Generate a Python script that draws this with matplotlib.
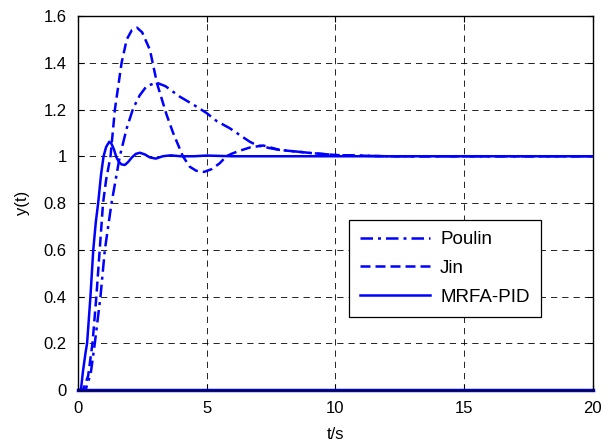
import matplotlib
matplotlib.use("Agg")
import matplotlib.pyplot as plt

plt.rcParams['font.family'] = ['Liberation Sans', 'DejaVu Sans']

# Poulin (dash-dot)
t_poulin = [0, 0.3, 0.5, 0.66, 0.88, 1.05, 1.31, 1.63, 1.9, 2.15, 2.4, 2.67, 3.05, 3.4,
            3.96, 4.5, 5.0, 5.4, 5.9, 6.3, 6.68, 6.94, 7.4, 7.84, 8.5, 9.13, 10.05, 12, 15, 20]
y_poulin = [0, 0, 0.07, 0.2, 0.4, 0.6, 0.8, 1.0, 1.12, 1.205, 1.26, 1.30, 1.315, 1.30,
            1.255, 1.22, 1.185, 1.15, 1.12, 1.09, 1.062, 1.048, 1.036, 1.027, 1.02, 1.013, 1.005, 1.0, 1.0, 1.0]

# Jin (dashed)
t_jin = [0, 0.2, 0.4, 0.57, 0.72, 0.85, 0.98, 1.1, 1.27, 1.44, 1.7, 1.9, 2.1, 2.3, 2.5,
         2.8, 3.08, 3.44, 3.7, 4.08, 4.35, 4.6, 4.9, 5.2, 5.51, 5.77, 6.0, 6.3, 6.7, 7.2,
         7.84, 8.5, 9.13, 10.05, 12, 15, 20]
y_jin = [0, 0, 0.06, 0.2, 0.4, 0.6, 0.8, 0.9, 1.0, 1.2, 1.4, 1.5, 1.54, 1.55, 1.53,
         1.455, 1.31, 1.18, 1.1, 1.0, 0.955, 0.938, 0.933, 0.945, 0.97, 1.0, 1.012, 1.024, 1.038, 1.046,
         1.027, 1.02, 1.013, 1.005, 1.0, 1.0, 1.0]

# MRFA-PID (solid)
t_mrfa = [0, 0.12, 0.2, 0.3, 0.36, 0.49, 0.6, 0.7, 0.79, 0.9, 1.0, 1.1, 1.22, 1.3, 1.4,
          1.5, 1.6, 1.7, 1.83, 1.95, 2.1, 2.25, 2.41, 2.6, 2.8, 3.03, 3.3, 3.6, 4.0, 4.5,
          5, 6, 7, 8, 10, 12, 15, 20]
y_mrfa = [0, 0, 0.08, 0.16, 0.2, 0.4, 0.6, 0.72, 0.8, 0.92, 1.0, 1.04, 1.062, 1.055, 1.03,
          0.995, 0.975, 0.965, 0.963, 0.975, 0.995, 1.01, 1.015, 1.008, 0.995, 0.99, 1.0, 1.004, 1.0, 1.0,
          1.003, 1.0, 1.0, 1.0, 1.0, 1.0, 1.0, 1.0]

# zero line along the bottom
t_zero = [0, 20]
y_zero = [0, 0]

blue = '#0000ff'

fig = plt.figure(figsize=(6.08, 4.45), dpi=100)
ax = fig.add_axes([0.128, 0.1236, 0.847, 0.8404])

ax.plot(t_poulin, y_poulin, color=blue, lw=1.8, ls=(0, (5, 2, 1.2, 2)), label='Poulin')
ax.plot(t_jin, y_jin, color=blue, lw=1.8, ls=(0, (4, 2)), label='Jin')
ax.plot(t_mrfa, y_mrfa, color=blue, lw=1.8, ls='-', label='MRFA-PID')
ax.plot(t_zero, y_zero, color=blue, lw=2.5, clip_on=False)

ax.set_xlim(0, 20)
ax.set_ylim(0, 1.6)
ax.set_xticks([0, 5, 10, 15, 20])
ax.set_yticks([0, 0.2, 0.4, 0.6, 0.8, 1.0, 1.2, 1.4, 1.6])
ax.set_yticklabels(['0', '0.2', '0.4', '0.6', '0.8', '1', '1.2', '1.4', '1.6'])
ax.tick_params(direction='in', top=True, right=True, labelsize=12, length=4)
ax.tick_params(axis='x', pad=8)
ax.tick_params(axis='y', pad=8)
ax.grid(True, color='black', ls=(0, (7.5, 6)), lw=0.6)
for s in ax.spines.values():
    s.set_linewidth(1.0)
ax.set_xlabel('t/s', fontsize=12, labelpad=8)
ax.set_ylabel('y(t)', fontsize=12, labelpad=10)

leg = ax.legend(loc='upper left', bbox_to_anchor=(0.527, 0.455), fontsize=13.5,
                fancybox=False, edgecolor='black', framealpha=1, handlelength=3.7,
                handletextpad=0.55, borderpad=0.6, labelspacing=0.62, borderaxespad=0)
leg.get_frame().set_linewidth(0.9)

fig.savefig('out.png', dpi=100)
